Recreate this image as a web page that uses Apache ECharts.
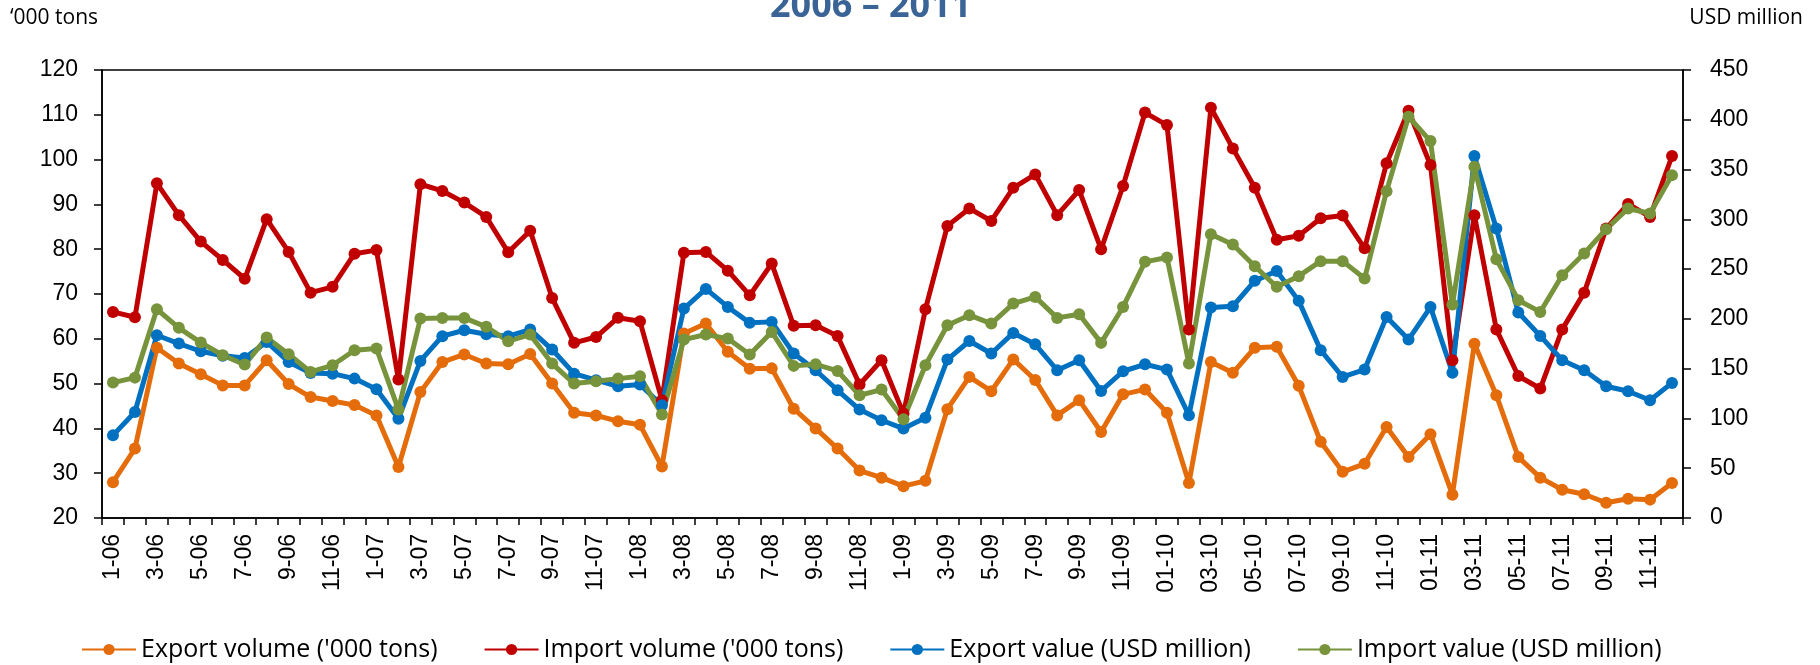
<!DOCTYPE html>
<html>
<head>
<meta charset="utf-8">
<script src="https://cdn.jsdelivr.net/npm/echarts@6/dist/echarts.min.js"></script>
<style>
  html, body { margin: 0; padding: 0; background: #fff; }
  #main { width: 1820px; height: 665px; }
</style>
</head>
<body>
<div id="main"></div>
<script>
var months = [
  '1-06','2-06','3-06','4-06','5-06','6-06','7-06','8-06','9-06','10-06','11-06','12-06',
  '1-07','2-07','3-07','4-07','5-07','6-07','7-07','8-07','9-07','10-07','11-07','12-07',
  '1-08','2-08','3-08','4-08','5-08','6-08','7-08','8-08','9-08','10-08','11-08','12-08',
  '1-09','2-09','3-09','4-09','5-09','6-09','7-09','8-09','9-09','10-09','11-09','12-09',
  '01-10','02-10','03-10','04-10','05-10','06-10','07-10','08-10','09-10','10-10','11-10','12-10',
  '01-11','02-11','03-11','04-11','05-11','06-11','07-11','08-11','09-11','10-11','11-11','12-11'
];

// '000 tons (left axis)
var exportVolume = [
  28.0, 35.5, 58.0, 54.5, 52.1, 49.6, 49.6, 55.2, 49.9, 47.0, 46.1, 45.2,
  42.9, 31.4, 48.1, 54.8, 56.5, 54.5, 54.3, 56.6, 50.0, 43.5, 42.9, 41.6,
  40.8, 31.5, 61.2, 63.4, 57.1, 53.3, 53.4, 44.4, 40.0, 35.5, 30.6, 29.0,
  27.1, 28.3, 44.3, 51.5, 48.3, 55.4, 50.8, 42.9, 46.3, 39.2, 47.6, 48.7,
  43.5, 27.8, 54.8, 52.4, 58.0, 58.2, 49.5, 37.0, 30.3, 32.1, 40.3, 33.6,
  38.7, 25.2, 58.9, 47.4, 33.6, 29.0, 26.3, 25.3, 23.4, 24.3, 24.1, 27.8
];
var importVolume = [
  66.0, 64.8, 94.7, 87.6, 81.7, 77.6, 73.4, 86.7, 79.4, 70.3, 71.6, 79.0,
  79.8, 50.9, 94.5, 93.0, 90.4, 87.2, 79.3, 84.1, 69.1, 59.1, 60.4, 64.7,
  63.9, 46.3, 79.2, 79.4, 75.2, 69.7, 76.8, 62.9, 63.0, 60.6, 49.8, 55.2,
  43.3, 66.6, 85.2, 89.1, 86.3, 93.7, 96.7, 87.6, 93.2, 80.0, 94.1, 110.5,
  107.7, 62.1, 111.6, 102.5, 93.7, 82.1, 83.0, 86.9, 87.5, 80.2, 99.2, 110.9,
  98.8, 55.2, 87.6, 62.1, 51.7, 48.9, 62.1, 70.3, 84.6, 90.1, 87.2, 100.8
];

// USD million (right axis)
var exportValue = [
  83, 106.5, 183.6, 175.2, 167.5, 163, 160.8, 176.9, 156.8, 145.7, 145, 140,
  129.3, 99.8, 157.8, 182.6, 188.6, 184.6, 182.6, 189.3, 169.2, 145, 138.4, 132.3,
  134, 113.2, 210.4, 230.1, 212, 196, 197, 165.2, 148.4, 128.3, 108.9, 98.2,
  89.8, 100.8, 159.1, 177.8, 165.2, 185.9, 174.5, 148.4, 158.5, 127.6, 147.4, 154.4,
  149.1, 103.2, 211.4, 212.7, 238.2, 248.2, 218.1, 168.5, 141.7, 149.1, 202, 179.2,
  211.9, 146, 363.5, 290.8, 206.4, 182.9, 158.5, 148.4, 132.3, 127.3, 118.3, 135.7
];
var importValue = [
  136, 141, 209.7, 191, 176.2, 163.5, 154.1, 181.2, 164.5, 146.7, 153.4, 168.5,
  170.2, 108.9, 200.3, 201, 201, 192, 177.6, 184.2, 155.1, 135, 137.4, 140,
  142.4, 103.9, 179.2, 184.3, 180.2, 164.2, 186.9, 152.8, 154.4, 147.7, 123.3, 129,
  99.2, 153.4, 193.6, 203.7, 195.3, 215.4, 222.1, 201, 204.7, 175.9, 212, 257.3,
  261.6, 155.1, 285.1, 274.7, 252.9, 232.2, 242.9, 258, 258, 240.5, 328.3, 403,
  378.6, 214.4, 352.8, 260, 218.8, 207, 243.9, 265.7, 290.1, 310.9, 305.9, 344.4
];

var seriesNames = ["Export volume ('000 tons)", "Import volume ('000 tons)", 'Export value (USD million)', 'Import value (USD million)'];
var colors = ['#E46C0A', '#C00000', '#0070C0', '#77933C'];

var myChart = echarts.init(document.getElementById('main'));

function lineSeries(name, data, axisIndex) {
  return {
    name: name,
    type: 'line',
    yAxisIndex: axisIndex,
    data: data,
    symbol: 'circle',
    symbolSize: 12,
    lineStyle: { width: 5 },
    animation: false
  };
}

var option = {
  backgroundColor: '#fff',
  color: colors,
  title: [
    {
      text: '2006 \u2013 2011',
      left: 770, top: -11, padding: 0,
      textStyle: { fontFamily: 'Open Sans', fontWeight: 'bold', fontSize: 36, lineHeight: 36, color: '#3A6496' }
    },
    {
      text: '\u2018000 tons',
      left: 10, top: 8, padding: 0,
      textStyle: { fontFamily: 'Open Sans', fontWeight: 'normal', fontSize: 21, lineHeight: 21, color: '#000' }
    },
    {
      text: 'USD million',
      right: 17, top: 8, padding: 0,
      textStyle: { fontFamily: 'Open Sans', fontWeight: 'normal', fontSize: 21, lineHeight: 21, color: '#000' }
    }
  ],
  legend: {
    data: seriesNames,
    left: 81, top: 637, padding: 0,
    itemWidth: 54, itemHeight: 14, itemGap: 46,
    textStyle: { fontFamily: 'Open Sans', fontSize: 25, color: '#000', width: 302 }
  },
  grid: {
    left: 102, right: 137, top: 70, bottom: 147,
    show: true, borderColor: '#000', borderWidth: 1.5, backgroundColor: 'transparent'
  },
  xAxis: {
    type: 'category',
    data: months,
    boundaryGap: true,
    axisLine: { lineStyle: { color: '#000', width: 1.5 } },
    axisTick: { show: true, interval: 0, length: 7, lineStyle: { color: '#000', width: 1.5 } },
    axisLabel: { interval: 1, rotate: 90, margin: 16, fontFamily: 'Liberation Sans', fontSize: 23, color: '#000' },
    splitLine: { show: false }
  },
  yAxis: [
    {
      type: 'value', min: 20, max: 120, interval: 10, position: 'left',
      axisLine: { show: true, lineStyle: { color: '#000', width: 1.5 } },
      axisTick: { show: true, length: 8, lineStyle: { color: '#000', width: 1.5 } },
      axisLabel: { margin: 24, fontFamily: 'Liberation Sans', fontSize: 23, color: '#000' },
      splitLine: { show: false }
    },
    {
      type: 'value', min: 0, max: 450, interval: 50, position: 'right',
      axisLine: { show: true, lineStyle: { color: '#000', width: 1.5 } },
      axisTick: { show: true, length: 8, lineStyle: { color: '#000', width: 1.5 } },
      axisLabel: { margin: 27, fontFamily: 'Liberation Sans', fontSize: 23, color: '#000' },
      splitLine: { show: false }
    }
  ],
  series: [
    lineSeries(seriesNames[0], exportVolume, 0),
    lineSeries(seriesNames[1], importVolume, 0),
    lineSeries(seriesNames[2], exportValue, 1),
    lineSeries(seriesNames[3], importValue, 1)
  ]
};

myChart.setOption(option);
</script>
</body>
</html>
